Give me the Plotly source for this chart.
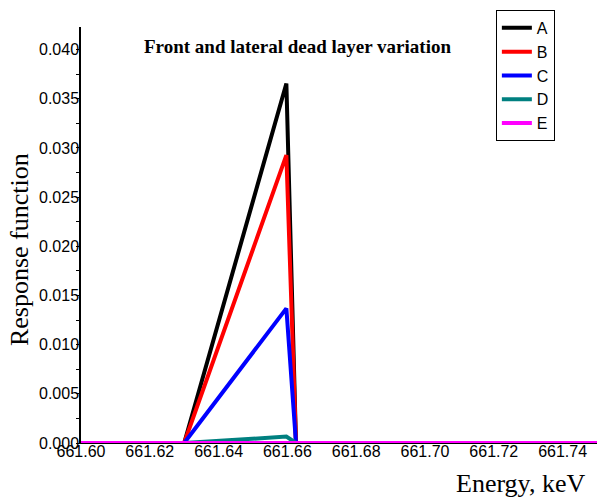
import plotly.graph_objects as go

energy = [661.60, 661.63, 661.6597, 661.6625, 661.75]
series_names = ["A", "B", "C", "D", "E"]
resp_A = [0.0, 0.0, 0.03656, 0.0, 0.0]
resp_B = [0.0, 0.0, 0.02927, 0.0, 0.0]
resp_C = [0.0, 0.0, 0.01369, 0.0, 0.0]
resp_D = [0.0, 0.0, 0.00065, 0.0, 0.0]
resp_E = [0.0, 0.0, 0.0, 0.0, 0.0]
colors = ["#000000", "#FF0000", "#0000FF", "#008080", "#FF00FF"]

x_ticks = [661.60, 661.62, 661.64, 661.66, 661.68, 661.70, 661.72, 661.74]
y_ticks = [0.000, 0.005, 0.010, 0.015, 0.020, 0.025, 0.030, 0.035, 0.040]

fig = go.Figure()
for name, ys, c in zip(series_names, [resp_A, resp_B, resp_C, resp_D, resp_E], colors):
    fig.add_trace(go.Scatter(x=energy, y=ys, mode="lines", name=name,
                             line=dict(color=c, width=4)))

fig.update_layout(
    width=597, height=498,
    margin=dict(l=81, r=0, t=27, b=55),
    paper_bgcolor="white", plot_bgcolor="white",
    font=dict(family="Liberation Sans, Arial", size=16, color="black"),
    showlegend=True,
    legend=dict(x=0.804, y=1.041, xanchor="left", yanchor="top",
                bgcolor="white", bordercolor="black", borderwidth=1,
                font=dict(family="Liberation Sans, Arial", size=16),
                tracegroupgap=0, itemwidth=30, entrywidth=40),
    xaxis=dict(range=[661.60, 661.75], tickvals=x_ticks,
               ticktext=[f"{v:.2f}" for v in x_ticks],
               showgrid=False, zeroline=False, showline=True,
               linecolor="black", linewidth=1, ticks="", ticklen=0,
               ticklabelstandoff=-6,
               tickfont=dict(size=16)),
    yaxis=dict(range=[0, 0.0423], tickvals=y_ticks,
               ticktext=[f"{v:.3f}" for v in y_ticks],
               showgrid=False, zeroline=False, showline=True,
               linecolor="black", linewidth=1.5, ticks="outside", ticklen=3,
               ticklabelstandoff=-6,
               tickcolor="black", tickfont=dict(size=16),
               minor=dict(dtick=0.0025, ticks="outside", ticklen=3, tickcolor="black")),
    annotations=[
        dict(text="<b>Front and lateral dead layer variation</b>", x=0.42, y=0.952,
             xref="paper", yref="paper", showarrow=False,
             xanchor="center", yanchor="middle",
             font=dict(family="Liberation Serif, Times New Roman", size=19, color="black")),
        dict(text="Response function", x=-0.118, y=0.464, xref="paper", yref="paper",
             showarrow=False, textangle=-90, xanchor="center", yanchor="middle",
             font=dict(family="Liberation Serif, Times New Roman", size=26, color="black")),
        dict(text="Energy, keV", x=0.851, y=-0.097, xref="paper", yref="paper",
             showarrow=False, xanchor="center", yanchor="middle",
             font=dict(family="Liberation Serif, Times New Roman", size=26, color="black")),
    ],
)

fig.write_html("out.html")
